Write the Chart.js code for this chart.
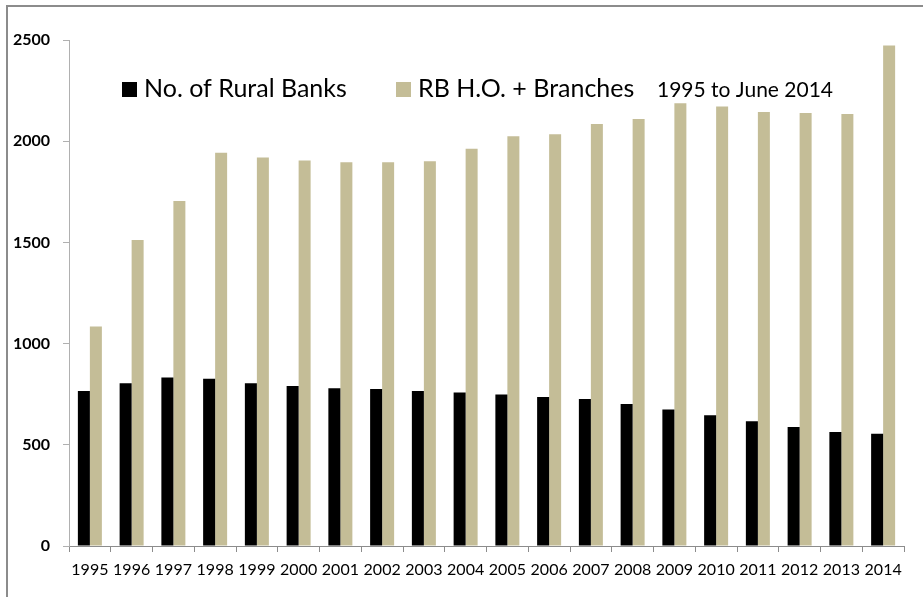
<!DOCTYPE html>
<html lang="en">
<head>
  <meta charset="UTF-8">
  <title>Rural Banks 1995 to June 2014</title>
  <script src="https://cdn.jsdelivr.net/npm/chart.js"></script>
  <style>
    html, body { margin: 0; padding: 0; background: #fff; }
    #wrap { position: relative; width: 923px; height: 597px; }
    #chart { display: block; }
    /* frame lines of the original picture (top and left only) */
    .edge { position: absolute; background: #8c8c8c; }
    #edge-top { left: 6px; top: 5px; width: 917px; height: 2px; }
    #edge-left { left: 6px; top: 5px; width: 2px; height: 592px; }
  </style>
</head>
<body>
  <div id="wrap">
    <canvas id="chart" width="923" height="597"></canvas>
    <div class="edge" id="edge-top"></div>
    <div class="edge" id="edge-left"></div>
  </div>

  <script>
    // years on the x axis
    const years = ['1995', '1996', '1997', '1998', '1999', '2000', '2001', '2002', '2003', '2004',
                   '2005', '2006', '2007', '2008', '2009', '2010', '2011', '2012', '2013', '2014'];

    // No. of Rural Banks
    const ruralBanks = [766, 804, 832, 826, 804, 790, 779, 776, 766, 759,
                        749, 736, 726, 702, 675, 646, 616, 588, 563, 555];

    // RB head offices + branches
    const branches = [1084, 1512, 1705, 1943, 1920, 1905, 1896, 1896, 1901, 1963,
                      2024, 2034, 2085, 2110, 2187, 2172, 2144, 2139, 2134, 2473];

    const yTicks = [0, 500, 1000, 1500, 2000, 2500];
    const periodNote = '1995 to June 2014';

    const FONT = 'Lato, "Open Sans", sans-serif';
    const AXIS_GRAY = '#8c8c8c';

    // legend drawn inside the plot area, like the original
    const insideLegend = {
      id: 'insideLegend',
      afterDraw(chart) {
        const ctx = chart.ctx;
        const area = chart.chartArea;
        const y = area.top + 49;
        const items = [
          { x: area.left + 53, ds: chart.data.datasets[0] },
          { x: area.left + 327, ds: chart.data.datasets[1] }
        ];
        ctx.save();
        ctx.textBaseline = 'middle';
        ctx.font = '25px ' + FONT;
        items.forEach(it => {
          ctx.fillStyle = it.ds.backgroundColor;
          ctx.fillRect(it.x, y - 7, 15, 15);
          ctx.fillStyle = '#000';
          ctx.fillText(it.ds.label, it.x + 22, y);
        });
        ctx.font = '21px ' + FONT;
        ctx.fillStyle = '#000';
        ctx.fillText(periodNote, area.left + 588, y + 1);
        ctx.restore();
      }
    };

    const ctx = document.getElementById('chart').getContext('2d');
    new Chart(ctx, {
      type: 'bar',
      data: {
        labels: years,
        datasets: [
          {
            label: 'No. of Rural Banks',
            data: ruralBanks,
            backgroundColor: '#000000',
            categoryPercentage: 0.575,
            barPercentage: 1.0
          },
          {
            label: 'RB H.O. + Branches',
            data: branches,
            backgroundColor: '#C4BD97',
            categoryPercentage: 0.575,
            barPercentage: 1.0
          }
        ]
      },
      options: {
        responsive: false,
        animation: false,
        layout: { padding: { top: 40, right: 19, left: 0, bottom: 0 } },
        plugins: {
          legend: { display: false },
          tooltip: { enabled: false }
        },
        scales: {
          x: {
            grid: {
              display: true,
              drawOnChartArea: false,
              offset: true,
              tickLength: 6,
              color: AXIS_GRAY
            },
            border: { display: true, color: AXIS_GRAY, width: 1 },
            ticks: {
              color: '#000',
              font: { family: FONT, size: 16 },
              padding: 8,
              maxRotation: 0,
              autoSkip: false
            },
            afterFit(scale) { scale.height = 51; }
          },
          y: {
            min: 0,
            max: 2500,
            afterBuildTicks(scale) {
              scale.ticks = yTicks.map(v => ({ value: v }));
            },
            grid: {
              display: true,
              drawOnChartArea: false,
              tickLength: 6,
              color: '#b0b0b0'
            },
            border: { display: true, color: '#b0b0b0', width: 1 },
            ticks: {
              color: '#000',
              font: { family: FONT, size: 16, weight: 'bold' },
              padding: 13,
              callback: v => String(v)
            },
            afterFit(scale) { scale.width = 69; }
          }
        }
      },
      plugins: [insideLegend]
    });
  </script>
</body>
</html>
